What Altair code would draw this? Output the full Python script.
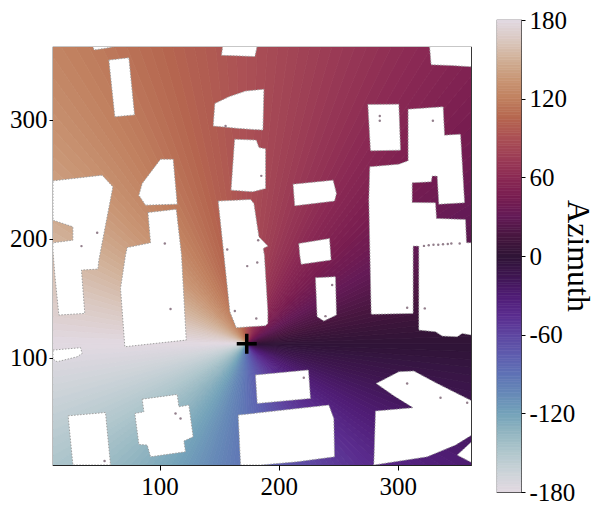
import altair as alt
import pandas as pd

FONT = "Liberation Serif"

cmap_az = [-180,-165,-150,-135,-120,-105,-90,-75,-60,-45,-30,-15,0,15,30,45,60,75,90,105,120,135,150,165,180]
cmap_col = ["#e2d9e2","#ccd3d8","#b1c7cd","#93b6c1","#74a3ba","#6689b7","#5f72b5","#5e5cae","#5e45a0","#5a2c8e","#4f1c74","#3f1651","#2f1436",
            "#47163f","#631a56","#781d50","#8b2a54","#9c3d55","#ab5055","#b5654f","#c0805f","#c99675","#d1b097","#dac8c0","#e2d9e2"]

az_levels = [-180,-178,-176,-174,-172,-170,-168,-166,-164,-162,-160,-158,-156,-154,-152,-150,-148,-146,-144,-142,
             -140,-138,-136,-134,-132,-130,-128,-126,-124,-122,-120,-118,-116,-114,-112,-110,-108,-106,-104,-102,
             -100,-98,-96,-94,-92,-90,-88,-86,-84,-82,-80,-78,-76,-74,-72,-70,-68,-66,-64,-62,
             -60,-58,-56,-54,-52,-50,-48,-46,-44,-42,-40,-38,-36,-34,-32,-30,-28,-26,-24,-22,
             -20,-18,-16,-14,-12,-10,-8,-6,-4,-2,0,2,4,6,8,10,12,14,16,18,
             20,22,24,26,28,30,32,34,36,38,40,42,44,46,48,50,52,54,56,58,
             60,62,64,66,68,70,72,74,76,78,80,82,84,86,88,90,92,94,96,98,
             100,102,104,106,108,110,112,114,116,118,120,122,124,126,128,130,132,134,136,138,
             140,142,144,146,148,150,152,154,156,158,160,162,164,166,168,170,172,174,176,178]

tx_x = [173.2]
tx_y = [111.8]
title_text = ["Azimuth"]

b1 = [(44,361.5),(63,361.5),(55,360),(45,358.5)]
b2 = [(57.4,350),(74.2,352),(79,304),(62.4,302.4)]
b3 = [(153,362),(182,362),(180,353),(152,354)]
b4 = [(146.4,313.6),(158.2,319.2),(172.2,324),(187.6,325.6),(186.8,291.2),(166.6,292.6),(145,294.6)]
b5 = [(163,283.6),(181.2,282.8),(183.4,276.6),(189,275.5),(189,242.2),(178,239.4),(160,240.8)]
b6 = [(10.5,248.6),(51.8,253.4),(60.8,243.6),(49,182),(48.2,174.5),(34.4,173.7),(37.2,137.3),(15.4,135.9),(12,170),(10.5,190),
      (10.5,196.6),(27.2,198.8),(27.2,210),(10.5,215.6)]
b7 = [(100.8,266.8),(111.4,266.8),(114.8,229),(88.2,228.2),(82.6,236.6),(85.4,246.4),(93.8,257.6)]
b8 = [(90.2,222),(114,224.8),(118.4,186.3),(122.4,114.9),(70.8,109.3),(67.2,158.3),(71.4,186.3),(72.8,192.6),(92.4,196.6)]
b9 = [(149.2,231.6),(176.4,233),(179.2,229.6),(183.4,201.6),(190.9,193.8),(187,191.8),(188,186.3),(190.9,138.7),(190.9,128.9),
      (189,127),(164.4,125.3),(159,138.7),(154,186.3)]
b10 = [(326.7,362),(362,362),(362,344.4),(344.3,345.5),(328,346.1)]
b11 = [(274.9,312.8),(300.9,313),(302.3,274.4),(277.1,273.8)]
b12 = [(276.5,260.4),(300.9,262.6),(308.7,265.4),(308.7,308.8),(338.1,310.8),(339.3,287),(352.7,287.8),(356.1,230.2),(334.5,229),
       (333.1,252.6),(328.9,252.6),(328.1,247.8),(312.1,247),(312.1,230.4),(331.7,230.2),(332.5,217),(356.9,216.2),(357.7,196.6),
       (362,196.6),(362,119.1),(354.1,120.5),(349.9,117.7),(337.3,118.3),(331.7,121.9),(317.7,123.3),(317.7,193.8),(312.9,193.8),
       (312.9,137.3),(277.7,136.5),(275.7,232.4)]
b13 = [(212.1,245.8),(245.7,249.2),(248.5,238),(246.9,231.6),(213.5,227.6)]
b14 = [(216.9,196),(242.7,200.2),(244,182.1),(218.9,178.5),(217.7,186.3)]
b15 = [(230.9,167.3),(247.7,168.1),(248.5,135.9),(237.9,130.9),(232.3,134.5)]
b16 = [(180.5,85.6),(225,89.8),(226.7,65.9),(182,61.7)]
b17 = [(166,51.9),(242.1,60.3),(246.3,49.1),(246.9,16.9),(215.5,12.7),(185,10),(168,10)]
b18 = [(281.9,78.5),(300.9,88.3),(313.5,88.9),(333.1,78.5),(362,64),(362,35.1),(348.5,26.7),(324.7,16.9),(279.9,10),(281.3,55.3),(312.9,58.1),(296.7,68.1)]
b19 = [(362,29.5),(349.9,18.3),(362,12.1)]
b20 = [(10.5,106.5),(33.6,108.5),(35,103.7),(30.8,100.9),(14,96.7),(10.5,98.9)]
b21 = [(23.2,51.3),(54.6,54.1),(58.8,10),(27.2,10)]
b22 = [(85.4,65.3),(114.8,69.3),(116.2,58.9),(124.6,60.3),(128.2,33.7),(120.4,30.1),(121.8,21.1),(92.4,16.9),(89.6,26.7),(82.6,27.3),(79.2,53.3),(86.8,54.7)]
buildings = [b1,b2,b3,b4,b5,b6,b7,b8,b9,b10,b11,b12,b13,b14,b15,b16,b17,b18,b19,b20,b21,b22]

specks = [(47.6,205),(34.4,193.8),(104.4,196),(155.4,294.6),(185.4,252.8),(182.8,198.8),(156.8,191),
          (284.9,303),(284.9,299),(329.5,299),(109.2,141),(173.6,177),(182,180),(163.2,139.3),(181.2,133.1),
          (113.4,53.3),(117.6,49.1),(53.8,13.3),(244.9,161.1),(239.3,135),(307.9,142),(322.7,141.5),(221.1,83.3),
          (307.9,78.5),(335.9,66.5),(358.3,62.3),(322,194),(326,194.5),(330,195),(334,195),(338,195.3),(342,195.6),(345,196),(352,196)]

x_dom = [10.5, 361.5]
y_dom = [10, 361]
x_scale = alt.Scale(domain=x_dom, nice=False, zero=False)
y_scale = alt.Scale(domain=y_dom, nice=False, zero=False)
color_scale = alt.Scale(domain=cmap_az, range=cmap_col, interpolate="rgb")

sector_df = pd.DataFrame({"a": az_levels, "x": tx_x * len(az_levels), "y": tx_y * len(az_levels)})
poly_df = pd.DataFrame([{"b": i, "k": j, "x": p[0], "y": p[1]} for i, b in enumerate(buildings) for j, p in enumerate(b)])
speck_df = pd.DataFrame({"x": [p[0] for p in specks], "y": [p[1] for p in specks]})
tx_df = pd.DataFrame({"x": tx_x, "y": tx_y})

xax = alt.X("x:Q", scale=x_scale, axis=alt.Axis(values=[100, 200, 300], title=None, grid=False, domain=False, labelFont=FONT,
            labelFontSize=25, labelColor="black", tickColor="black", tickSize=5, labelPadding=4, labelFlush=False))
yax = alt.Y("y:Q", scale=y_scale, axis=alt.Axis(values=[100, 200, 300], title=None, grid=False, domain=False, labelFont=FONT,
            labelFontSize=25, labelColor="black", tickColor="black", tickSize=4, labelPadding=2, labelFlush=False))

sectors = alt.Chart(sector_df).transform_calculate(b="datum.a+2", m="datum.a+1").mark_arc(
    outerRadius=800, innerRadius=0, clip=True, strokeWidth=0.8
).encode(
    x=xax, y=yax,
    theta=alt.Theta("a:Q", scale=alt.Scale(domain=[-180, 180], range=[10.996, 4.712]), stack=None),
    theta2="b:Q",
    color=alt.Color("m:Q", scale=color_scale, legend=None),
    stroke=alt.Stroke("m:Q", scale=color_scale, legend=None),
)

polys = alt.Chart(poly_df).mark_line(
    fill="white", stroke="#a0a0a0", strokeWidth=1, strokeDash=[1.5, 1.5], interpolate="linear-closed", clip=True
).encode(x=alt.X("x:Q", scale=x_scale), y=alt.Y("y:Q", scale=y_scale), detail="b:N", order="k:Q")

dots = alt.Chart(speck_df).mark_circle(size=6, color="#86707e", opacity=0.9, clip=True).encode(
    x=alt.X("x:Q", scale=x_scale), y=alt.Y("y:Q", scale=y_scale))

cross = alt.Chart(tx_df).mark_point(shape="M-1,0H1M0,-1V1", size=400, stroke="black", strokeWidth=3.5, filled=False, opacity=1).encode(
    x=alt.X("x:Q", scale=x_scale), y=alt.Y("y:Q", scale=y_scale))

main = alt.layer(sectors, polys, dots, cross).properties(width=418, height=418)

spacer = alt.Chart(tx_df).mark_point(opacity=0).encode(
    x=alt.value(0), y=alt.value(0)
).properties(width=1, height=1, view=alt.ViewConfig(stroke=None))

bar_df = pd.DataFrame({"a": az_levels})
bar = alt.Chart(bar_df).transform_calculate(b="datum.a+2", m="datum.a+1").mark_rect(strokeWidth=0.6).encode(
    y=alt.Y("a:Q", scale=alt.Scale(domain=[-180, 180], nice=False, zero=False),
            axis=alt.Axis(orient="right", values=[-180, -120, -60, 0, 60, 120, 180], title=None, grid=False, domain=False,
                          labelFont=FONT, labelFontSize=25, labelColor="black", tickColor="black", tickSize=4, labelPadding=4,
                          labelExpr="'' + datum.value", labelFlush=False)),
    y2="b:Q",
    color=alt.Color("m:Q", scale=color_scale, legend=None),
    stroke=alt.Stroke("m:Q", scale=color_scale, legend=None),
)
bar_title = alt.Chart(pd.DataFrame({"t": title_text})).mark_text(
    font=FONT, fontSize=32, angle=90, align="center", baseline="alphabetic", color="black"
).encode(text="t:N", x=alt.value(71), y=alt.value(236))
colorbar = alt.layer(bar, bar_title).properties(width=24, height=472)

left = alt.vconcat(spacer, main, spacing=23)
chart = alt.hconcat(left, colorbar, spacing=24).resolve_scale(color="shared").properties(
    padding={"left": 0, "right": -3, "top": -1, "bottom": -3}
).configure_view(stroke="#222222", strokeWidth=1.2)

chart.save("out.html", embed_options={"renderer": "svg", "actions": False})
